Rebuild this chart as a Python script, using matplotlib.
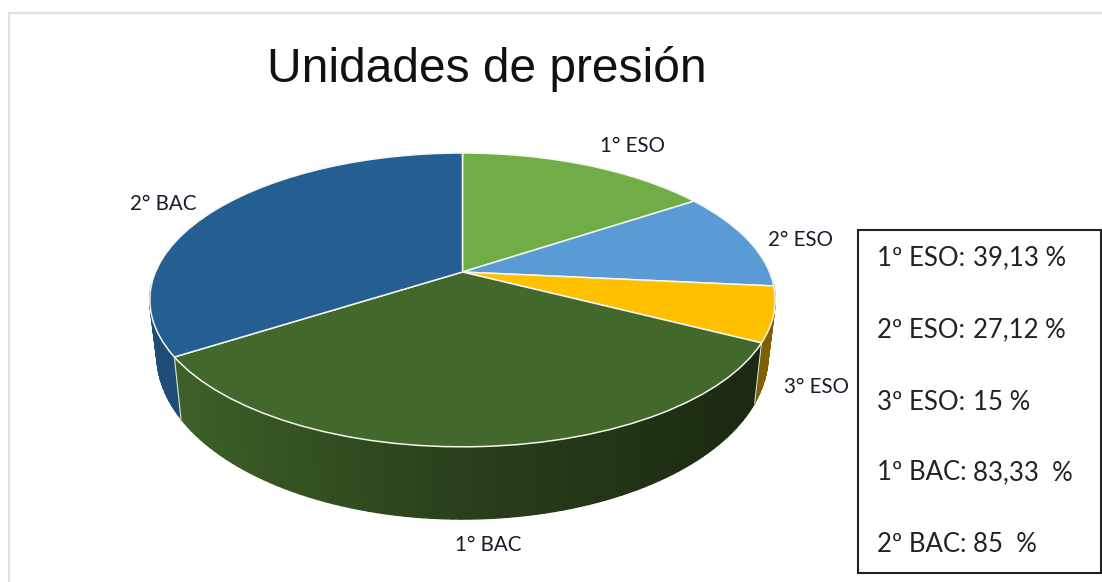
import numpy as np
import matplotlib
matplotlib.use("Agg")
import matplotlib.pyplot as plt
from matplotlib.transforms import Transform
from matplotlib.collections import PolyCollection
from matplotlib.patches import Rectangle
from matplotlib.colors import to_rgb

# --- data ---
title = "Unidades de presión"
categories = ["1° ESO", "2° ESO", "3° ESO", "1° BAC", "2° BAC"]
legend_names = ["1º ESO:", "2º ESO:", "3º ESO:", "1º BAC:", "2º BAC:"]
legend_values = ["39,13 %", "27,12 %", "15 %", "83,33  %", "85  %"]
values = [39.13, 27.12, 15, 83.33, 85]

# --- style ---
top_colors = ["#70AD47", "#5B9BD5", "#FFC000", "#43682B", "#255E91"]
side_factors = [0.6, 0.6, 0.5, None, 0.82]
label_xy = [(632, 146), (801, 240), (817, 387), (488, 545), (163, 204)]
legend_y = [258, 330, 402, 473, 544]

W, H = 1102, 582
CX, K = 462.5, 0.19


class Persp(Transform):
    """Unit-circle pie plane -> perspective disc in pixel-like data units."""
    input_dims = output_dims = 2
    is_separable = False
    has_inverse = False

    def __init__(self, a, b, y0):
        super().__init__()
        self.a, self.b, self.y0 = a, b, y0

    def transform_non_affine(self, values):
        v = np.asarray(values, float)
        w = 1 + K * v[:, 1]
        return np.column_stack([CX + self.a * v[:, 0] / w, self.y0 - self.b * v[:, 1] / w])


top_plane = Persp(307, 141.6, 272)
bottom_plane = Persp(300, 158, 324)

fig = plt.figure(figsize=(W / 100, H / 100), dpi=100, facecolor="white")
ax = fig.add_axes([0, 0, 1, 1])

# side wall, from the slice angles (front part only)
fractions = np.array(values) / np.sum(values)
edges = np.concatenate([[0], np.cumsum(fractions)]) * 2 * np.pi
quads, colors, depth = [], [], []
for i, col in enumerate(top_colors):
    th = np.linspace(edges[i], edges[i + 1], max(3, int((edges[i + 1] - edges[i]) * 40)))
    rgb = np.array(to_rgb(col))
    for t0, t1 in zip(th[:-1], th[1:]):
        ring = np.array([[np.sin(t0), np.cos(t0)], [np.sin(t1), np.cos(t1)]])
        if ring[:, 1].mean() > -0.08:
            continue
        up = top_plane.transform_non_affine(ring)
        lo = bottom_plane.transform_non_affine(ring)
        quads.append([up[0], up[1], lo[1], lo[0]])
        um = ring[:, 0].mean()
        f = side_factors[i]
        if f is None:
            f = np.interp(um, [-1, -0.8, 0, 0.8], [0.98, 0.92, 0.62, 0.40])
        colors.append(tuple(rgb * f))
        depth.append(ring[:, 1].mean())
order = np.argsort(depth)[::-1]
ax.add_collection(PolyCollection([quads[j] for j in order], facecolors=[colors[j] for j in order],
                                 edgecolors=[colors[j] for j in order], linewidths=1.0,
                                 capstyle="butt", joinstyle="round", zorder=1))

# divider lines on the wall
for e in edges[[3, 4]]:
    ring = np.array([[np.sin(e), np.cos(e)]])
    up = top_plane.transform_non_affine(ring)[0]
    lo = bottom_plane.transform_non_affine(ring)[0]
    ax.plot([up[0], lo[0]], [up[1], lo[1]], color="#dfe6d8", lw=0.8, zorder=2)

# top face
wedges, _ = ax.pie(values, startangle=90, counterclock=False, colors=top_colors,
                   wedgeprops=dict(edgecolor="#f4f6f0", linewidth=1.1))
for w in wedges:
    w.set_transform(top_plane + ax.transData)
    w.set_zorder(3)

ax.set_aspect("auto")
ax.set_xlim(0, W)
ax.set_ylim(H, 0)
ax.axis("off")

# photo frame
ax.plot([9, 9, W], [H, 13, 13], color="#e0e0e0", lw=1.5, zorder=0)

ax.text(487, 69, title, family="Liberation Sans", fontsize=34.5, color="#111111",
        ha="center", va="center", zorder=5)

for name, (x, y) in zip(categories, label_xy):
    ax.text(x, y, name, family="Lato", fontsize=14.8, color="#1a1a2a", ha="center", va="center", zorder=5)

ax.add_patch(Rectangle((857.5, 229.5), 243, 343, fill=False, edgecolor="#222222", lw=1.5, zorder=4))
for name, val, y in zip(legend_names, legend_values, legend_y):
    ax.text(877, y, name, family="Lato", fontsize=18.5, color="#222222", ha="left", va="center", zorder=5)
    ax.text(973, y, val, family="Lato", fontsize=18.5, color="#222222", ha="left", va="center", zorder=5)

fig.savefig("out.png", dpi=100, facecolor="white")
